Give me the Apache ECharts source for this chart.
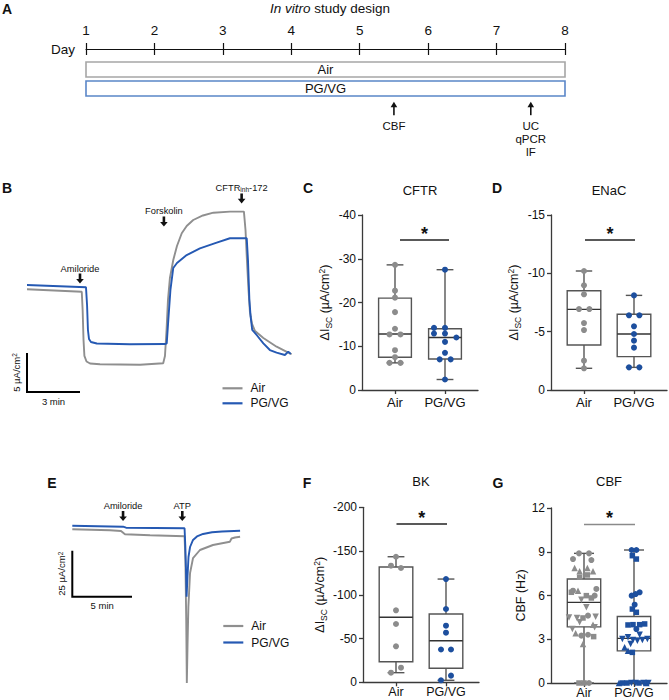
<!DOCTYPE html>
<html><head><meta charset="utf-8">
<script src="https://cdn.jsdelivr.net/npm/echarts@6/dist/echarts.min.js"></script>
<style>html,body{margin:0;padding:0;background:#fff}#c{width:669px;height:700px}</style>
</head><body><div id="c"></div>
<script>
// ================= DATA =================
const days = [1, 2, 3, 4, 5, 6, 7, 8];
const exposureRows = ['Air', 'PG/VG'];
const studyTimepoints = [[5.5, 'CBF'], [7.5, 'UC\nqPCR\nIF']];
const groupNames = ['Air', 'PG/VG'];

// Panel B: Ussing chamber traces (minutes, µA/cm²)
const bAir = [[0,13.17],[3.10,12.86],[3.15,10.51],[3.20,6.67],[3.25,4.62],[3.37,3.91],[3.57,3.65],[4.13,3.55],[6.40,3.50],[7.71,3.68],[7.81,4.62],[7.90,7.95],[7.98,11.79],[8.09,14.62],[8.28,16.92],[8.49,18.72],[8.76,20.35],[9.04,21.28],[9.41,22.05],[9.96,22.63],[10.55,22.99],[11.49,23.12],[12.28,23.12],[12.37,20.77],[12.45,16.92],[12.54,13.08],[12.62,10.26],[12.74,8.72],[12.91,7.82],[13.38,6.92],[14.13,5.81],[14.79,5.04],[14.98,4.87]];
const bPg = [[0,13.72],[3.34,13.42],[3.40,11.15],[3.45,7.95],[3.51,6.79],[3.62,6.41],[3.95,6.22],[5.83,6.12],[7.81,6.15],[7.91,6.24],[8.0,9.23],[8.12,13.08],[8.28,15.9],[8.49,16.54],[9.04,17.56],[9.79,18.42],[10.74,19.14],[11.49,19.71],[12.44,19.71],[12.51,16.92],[12.59,11.79],[12.66,9.65],[12.75,7.95],[13.0,7.31],[13.38,6.24],[13.75,5.38],[14.13,5.04],[14.60,4.74],[14.79,5.17],[14.93,4.87]];
const bEvents = [[3.0, 13.91, 'Amiloride'], [7.75, 21.22, 'Forskolin'], [12.15, 24.17, 'CFTR{s|inh}-172']];
const bScale = [0, 0, 3, 5, '3 min', '5 µA/cm{p|2}'];

// Panel C: CFTR ΔIsc (µA/cm²): [jitter, value]
const cAirPts = [[0,-28.6],[0,-22.7],[0,-21.1],[0,-17.8],[0,-14.0],[-0.11,-12.7],[0.11,-12.7],[0,-9.1],[0,-7.5],[-0.11,-6.2],[0.11,-6.2]];
const cPgPts = [[0,-27.5],[-0.22,-14.2],[0,-14.2],[-0.22,-12.9],[0,-12.9],[0.227,-12.0],[0,-11.0],[0,-8.5],[-0.107,-7.0],[0.113,-7.0],[0,-2.4]];
const cBox = [[1,-6.2,-7.5,-12.8,-21.0,-28.6],[2,-2.4,-7.1,-12.0,-14.0,-27.5]]; // x,min,q1,med,q3,max
const cSig = [[1.1, -34.3, 2.08]];

// Panel D: ENaC
const dAirPts = [[0,-10.2],[0,-8.97],[0,-8.2],[-0.1,-6.94],[0.107,-6.94],[0,-5.74],[0,-5.14],[0,-2.51],[0,-1.86]];
const dPgPts = [[0,-8.11],[-0.1,-6.4],[0.107,-6.4],[0,-5.46],[0,-4.8],[0,-4.23],[0,-3.63],[-0.1,-1.94],[0.107,-1.94]];
const dBox = [[1,-1.86,-3.86,-6.91,-8.51,-10.2],[2,-1.94,-2.86,-4.8,-6.49,-8.11]];
const dSig = [[1.02, -12.86, 2.02]];

// Panel E: traces (minutes, µA/cm²)
const eAir = [[0,36.63],[3.16,36.09],[4.08,35.71],[4.41,33.91],[6.51,33.37],[9.40,32.83],[9.47,19.95],[9.54,-12.66],[9.59,-46.9],[9.65,-26.25],[9.72,-5.43],[9.86,12.88],[10.11,21.03],[10.69,25.38],[11.78,28.1],[13.2,29.89],[13.33,31.63],[13.62,32.17],[14.05,32.61]];
const ePg = [[0,38.59],[4.25,38.04],[4.50,37.5],[9.40,37.17],[9.46,28.1],[9.52,14.51],[9.57,0],[9.64,10.16],[9.73,21.58],[9.86,27.01],[10.11,30.82],[10.44,32.72],[10.95,34.08],[11.7,35.0],[12.54,35.43],[14.05,35.87]];
const eEvents = [[4.25, 41.14, 'Amiloride'], [9.21, 41.14, 'ATP']];
const eScale = [0, 0, 5, 25, '5 min', '25 µA/cm{p|2}'];

// Panel F: BK
const fAirPts = [[0,-143.5],[-0.1,-133.3],[0.1,-130.6],[0,-82.3],[0,-66.6],[0,-41.1],[0.1,-16.7],[-0.1,-11.0]];
const fPgPts = [[0,-118],[0,-83.8],[0,-64.7],[0,-56.7],[-0.1,-37.5],[0.1,-37.5],[0.1,-7.6],[-0.1,-2.3]];
const fBox = [[1,-11.0,-23.4,-74.3,-131.8,-143.5],[2,-2.3,-16.0,-47.5,-78.1,-118]];
const fSig = [[1.01, -180.9, 2.02]];

// Panel G: CBF (Hz), per-donor marker shapes
const gAirCircle = [[-0.1,8.89],[0.1,8.89],[-0.22,8.5],[0.147,8.43],[0.247,6.45],[-0.22,6.33],[0.213,5.99],[0.08,4.62],[-0.053,3.25],[0.08,3.31],[0.1,0]];
const gAirSquare = [[-0.087,7.25],[0.067,7.41],[0.047,5.99],[0.147,5.83],[-0.253,6.22],[-0.02,4.46],[0.193,3.18],[-0.1,0],[0,0]];
const gAirTriangle = [[-0.187,7.89],[0.067,7.89],[-0.087,7.66],[0.18,7.66],[-0.12,6.33],[-0.167,3.41],[-0.02,2.67],[0.18,4.0]];
const gAirInvTri = [[-0.053,5.71],[0.047,5.19],[-0.3,4.5],[-0.14,4.46],[0.233,4.55],[-0.087,4.16],[-0.233,3.7],[0.213,3.82]];
const gPgCircle = [[-0.047,9.12],[0.047,9.12],[0.113,6.22],[0.033,6.1],[-0.047,5.99],[0.013,5.37],[0.047,3.7]];
const gPgSquare = [[-0.033,8.73],[0.047,8.5],[-0.033,5.07],[0.047,4.85],[-0.12,3.98],[-0.02,4.0],[0.113,4.0],[0.213,4.05],[-0.033,2.1],[-0.233,0],[-0.14,0],[0.1,0]];
const gPgInvTri = [[-0.233,3.02],[-0.12,3.13],[-0.02,2.95],[0.067,2.9],[0.167,2.95],[0.267,3.02],[-0.067,2.67],[0.113,3.31],[-0.053,0],[0.033,0],[0.193,0],[0.287,0]];
const gPgTriangle = [[-0.187,2.45],[-0.12,2.22],[-0.3,0],[0.247,0]];
const gBox = [[1,0,3.85,5.53,7.13,8.89],[2,0,2.2,3.06,4.56,9.12]];
const gSig = [[1.0, 10.87, 2.02]];

// ================= STYLE =================
const FONT = '"Liberation Sans", Arial, Helvetica, sans-serif';
const TXT = '#111';
const GRAY = '#8f8f8f', BLUE = '#2559b3';
const PTGRAY = '#8c8c8c', PTBLUE = '#1d4f9e';
const BOXC = '#555', AX = '#3a3a3a';

const chart = echarts.init(document.getElementById('c'), null, {renderer: 'svg', width: 669, height: 700});

const yNameRich = {
  n: {fontSize: 12.5, fontFamily: FONT, color: TXT, lineHeight: 16, verticalAlign: 'middle'},
  s: {fontSize: 8.5, fontFamily: FONT, color: TXT, lineHeight: 8, verticalAlign: 'bottom'},
  p: {fontSize: 8.5, fontFamily: FONT, color: TXT, lineHeight: 8, verticalAlign: 'top'}
};
const dIscName = '{n|ΔI}{s|SC}{n| (µA/cm}{p|2}{n|)}';

function xGroupAxis(gi, margin, size) {
  return {
    type: 'value', gridIndex: gi, min: 0.34, max: 2.66,
    axisLine: {show: true, onZero: false, lineStyle: {color: AX, width: 1.3}},
    axisTick: {show: true, customValues: [1, 2], length: 4, lineStyle: {color: AX, width: 1.3}},
    axisLabel: {customValues: [1, 2], formatter: v => groupNames[Math.round(v) - 1], margin, fontSize: size, lineHeight: size + 1, color: TXT, fontFamily: FONT},
    splitLine: {show: false}
  };
}
function yValAxis(gi, min, max, interval, inverse, name, gap) {
  return {
    type: 'value', gridIndex: gi, min, max, interval, inverse,
    axisLine: {show: true, onZero: false, lineStyle: {color: AX, width: 1.3}},
    axisTick: {show: true, length: 4, lineStyle: {color: AX, width: 1.3}},
    axisLabel: {fontSize: 12, color: TXT, margin: 6, fontFamily: FONT},
    splitLine: {show: false},
    name, nameLocation: 'middle', nameGap: gap,
    nameTextStyle: {fontSize: 12.5, fontFamily: FONT, color: TXT, rich: yNameRich}
  };
}
function hiddenAxis(gi, min, max) {
  return {type: 'value', gridIndex: gi, min, max, show: false, splitLine: {show: false}};
}

function boxRender(hw, cw) {
  return function (params, api) {
    const x = api.value(0);
    const pMin = api.coord([x, api.value(1)]), pQ1 = api.coord([x, api.value(2)]),
      pMed = api.coord([x, api.value(3)]), pQ3 = api.coord([x, api.value(4)]), pMax = api.coord([x, api.value(5)]);
    const cx = pMed[0];
    const st = {stroke: BOXC, lineWidth: 1.4, fill: null};
    const top = Math.min(pQ1[1], pQ3[1]), bot = Math.max(pQ1[1], pQ3[1]);
    return {type: 'group', children: [
      {type: 'line', shape: {x1: cx, y1: pMax[1], x2: cx, y2: pQ3[1]}, style: st},
      {type: 'line', shape: {x1: cx, y1: pQ1[1], x2: cx, y2: pMin[1]}, style: st},
      {type: 'line', shape: {x1: cx - cw, y1: pMax[1], x2: cx + cw, y2: pMax[1]}, style: st},
      {type: 'line', shape: {x1: cx - cw, y1: pMin[1], x2: cx + cw, y2: pMin[1]}, style: st},
      {type: 'rect', shape: {x: cx - hw, y: top, width: 2 * hw, height: bot - top}, style: {stroke: BOXC, lineWidth: 1.4, fill: 'rgba(255,255,255,0)'}},
      {type: 'line', shape: {x1: cx - hw, y1: pMed[1], x2: cx + hw, y2: pMed[1]}, style: {stroke: '#333', lineWidth: 1.4}}
    ]};
  };
}
function sigRender(color) {
  return function (params, api) {
    const a = api.coord([api.value(0), api.value(1)]), b = api.coord([api.value(2), api.value(1)]);
    return {type: 'group', children: [
      {type: 'line', shape: {x1: a[0], y1: a[1], x2: b[0], y2: b[1]}, style: {stroke: color, lineWidth: 1.4}},
      {type: 'text', x: (a[0] + b[0]) / 2, y: a[1] - 6, style: {text: '*', fontSize: 18, fontWeight: 'bold', fontFamily: FONT, fill: TXT, align: 'center', verticalAlign: 'middle'}}
    ]};
  };
}
function downArrows(events) {
  return function (params, api) {
    const ev = events[params.dataIndex];
    const p = api.coord([api.value(0), api.value(1)]);
    return {type: 'group', children: [
      {type: 'rect', shape: {x: p[0] - 1.3, y: p[1] - 10, width: 2.6, height: 6}, style: {fill: '#111'}},
      {type: 'polygon', shape: {points: [[p[0] - 3.8, p[1] - 4.6], [p[0] + 3.8, p[1] - 4.6], [p[0], p[1]]]}, style: {fill: '#111'}},
      {type: 'text', x: p[0], y: p[1] - 15, style: {text: ev[2], fontSize: 9.3, fontFamily: FONT, fill: TXT, align: 'center', verticalAlign: 'middle',
        rich: {s: {fontSize: 6.5, fontFamily: FONT, fill: TXT, verticalAlign: 'bottom', lineHeight: 7}}}}
    ]};
  };
}
function scaleRender(sc, vOff, hOff) {
  return function (params, api) {
    const o = api.coord([sc[0], sc[1]]), px = api.coord([sc[0] + sc[2], sc[1]]), py = api.coord([sc[0], sc[1] + sc[3]]);
    return {type: 'group', children: [
      {type: 'polyline', shape: {points: [py, o, px]}, style: {stroke: '#000', lineWidth: 2, fill: null}},
      {type: 'text', x: (o[0] + px[0]) / 2, y: o[1] + hOff, style: {text: sc[4], fontSize: 9.5, fontFamily: FONT, fill: TXT, align: 'center', verticalAlign: 'middle'}},
      {type: 'text', x: o[0] - vOff, y: (o[1] + py[1]) / 2, rotation: Math.PI / 2, style: {text: sc[5], fontSize: 9.5, fontFamily: FONT, fill: TXT, align: 'center', verticalAlign: 'middle',
        rich: {p: {fontSize: 6.5, fontFamily: FONT, fill: TXT, verticalAlign: 'top', lineHeight: 7}}}}
    ]};
  };
}
function pts(arr, group) { return arr.map(p => [group + p[0], p[1]]); }
function scatter(name, xi, yi, data, color, symbol, size, rotate) {
  return {type: 'scatter', name, xAxisIndex: xi, yAxisIndex: yi, data, symbol: symbol || 'circle', symbolSize: size || 6,
    symbolRotate: rotate || 0, itemStyle: {color, opacity: 1}, z: 5, silent: true};
}

const series = [];
// ---- Panel A ----
series.push({
  type: 'custom', name: 'studyBars', xAxisIndex: 0, yAxisIndex: 0, silent: true,
  data: exposureRows.map((n, i) => [days[0], i, days[days.length - 1]]),
  encode: {x: [0, 2], y: 1},
  renderItem: function (params, api) {
    const l = api.coord([api.value(0), api.value(1)]), r = api.coord([api.value(2), api.value(1)]);
    const h = 15;
    const stroke = params.dataIndex === 0 ? '#a6a6a6' : '#5a86c8';
    return {type: 'group', children: [
      {type: 'rect', shape: {x: l[0], y: l[1] - h / 2, width: r[0] - l[0], height: h}, style: {stroke, lineWidth: 1.6, fill: '#fff'}},
      {type: 'text', x: (l[0] + r[0]) / 2, y: l[1], style: {text: exposureRows[params.dataIndex], fontSize: 13, fontFamily: FONT, fill: TXT, align: 'center', verticalAlign: 'middle'}}
    ]};
  }
});
series.push({
  type: 'custom', name: 'timepoints', xAxisIndex: 0, yAxisIndex: 0, silent: true,
  data: studyTimepoints.map(t => [t[0], 1]),
  renderItem: function (params, api) {
    const tp = studyTimepoints[params.dataIndex];
    const p = api.coord([api.value(0), api.value(1)]);
    const tipY = p[1] + 13.2;
    return {type: 'group', children: [
      {type: 'line', shape: {x1: p[0], y1: tipY + 4, x2: p[0], y2: tipY + 13.5}, style: {stroke: '#111', lineWidth: 1.6}},
      {type: 'polygon', shape: {points: [[p[0] - 3.3, tipY + 5.5], [p[0] + 3.3, tipY + 5.5], [p[0], tipY]]}, style: {fill: '#111'}},
      {type: 'text', x: p[0], y: tipY + 17.5, style: {text: tp[1], fontSize: 11.5, lineHeight: 13.3, fontFamily: FONT, fill: TXT, align: 'center', verticalAlign: 'top'}}
    ]};
  }
});
// ---- Panel B ----
series.push({type: 'line', name: 'Air', xAxisIndex: 2, yAxisIndex: 1, data: bAir, symbol: 'none', showSymbol: false, color: GRAY,
  lineStyle: {color: GRAY, width: 1.9}, itemStyle: {color: GRAY}, z: 3, silent: true});
series.push({type: 'line', name: 'PG/VG', xAxisIndex: 2, yAxisIndex: 1, data: bPg, symbol: 'none', showSymbol: false, color: BLUE,
  lineStyle: {color: BLUE, width: 1.9}, itemStyle: {color: BLUE}, z: 4, silent: true});
series.push({type: 'custom', name: 'bEvents', xAxisIndex: 2, yAxisIndex: 1, silent: true, data: bEvents.map(e => [e[0], e[1]]), renderItem: downArrows(bEvents)});
series.push({type: 'custom', name: 'bScale', xAxisIndex: 2, yAxisIndex: 1, silent: true, data: [[bScale[0], bScale[1]]], renderItem: scaleRender(bScale, 11, 9.7)});
// ---- Panel C ----
series.push({type: 'custom', name: 'cBox', xAxisIndex: 3, yAxisIndex: 2, silent: true, data: cBox, renderItem: boxRender(16.4, 8.4), z: 2});
series.push(scatter('cAir', 3, 2, pts(cAirPts, 1), PTGRAY));
series.push(scatter('cPg', 3, 2, pts(cPgPts, 2), PTBLUE));
series.push({type: 'custom', name: 'cSig', xAxisIndex: 3, yAxisIndex: 2, silent: true, data: cSig, renderItem: sigRender('#222')});
// ---- Panel D ----
series.push({type: 'custom', name: 'dBox', xAxisIndex: 4, yAxisIndex: 3, silent: true, data: dBox, renderItem: boxRender(16.8, 8.2), z: 2});
series.push(scatter('dAir', 4, 3, pts(dAirPts, 1), PTGRAY));
series.push(scatter('dPg', 4, 3, pts(dPgPts, 2), PTBLUE));
series.push({type: 'custom', name: 'dSig', xAxisIndex: 4, yAxisIndex: 3, silent: true, data: dSig, renderItem: sigRender('#222')});
// ---- Panel E ----
series.push({type: 'line', name: 'Air', xAxisIndex: 5, yAxisIndex: 4, data: eAir, symbol: 'none', showSymbol: false, color: GRAY,
  lineStyle: {color: GRAY, width: 1.9}, itemStyle: {color: GRAY}, z: 3, silent: true});
series.push({type: 'line', name: 'PG/VG', xAxisIndex: 5, yAxisIndex: 4, data: ePg, symbol: 'none', showSymbol: false, color: BLUE,
  lineStyle: {color: BLUE, width: 1.9}, itemStyle: {color: BLUE}, z: 4, silent: true});
series.push({type: 'custom', name: 'eEvents', xAxisIndex: 5, yAxisIndex: 4, silent: true, data: eEvents.map(e => [e[0], e[1]]), renderItem: downArrows(eEvents)});
series.push({type: 'custom', name: 'eScale', xAxisIndex: 5, yAxisIndex: 4, silent: true, data: [[eScale[0], eScale[1]]], renderItem: scaleRender(eScale, 10.6, 9)});
// ---- Panel F ----
series.push({type: 'custom', name: 'fBox', xAxisIndex: 6, yAxisIndex: 5, silent: true, data: fBox, renderItem: boxRender(16.8, 8.4), z: 2});
series.push(scatter('fAir', 6, 5, pts(fAirPts, 1), PTGRAY));
series.push(scatter('fPg', 6, 5, pts(fPgPts, 2), PTBLUE));
series.push({type: 'custom', name: 'fSig', xAxisIndex: 6, yAxisIndex: 5, silent: true, data: fSig, renderItem: sigRender('#222')});
// ---- Panel G ----
series.push({type: 'custom', name: 'gBox', xAxisIndex: 7, yAxisIndex: 6, silent: true, data: gBox, renderItem: boxRender(16.7, 10), z: 2});
series.push(scatter('gAirC', 7, 6, pts(gAirCircle, 1), PTGRAY, 'circle', 6));
series.push(scatter('gAirS', 7, 6, pts(gAirSquare, 1), PTGRAY, 'rect', 5.5));
series.push(scatter('gAirT', 7, 6, pts(gAirTriangle, 1), PTGRAY, 'triangle', 6.5));
series.push(scatter('gAirI', 7, 6, pts(gAirInvTri, 1), PTGRAY, 'triangle', 6.5, 180));
series.push(scatter('gPgC', 7, 6, pts(gPgCircle, 2), PTBLUE, 'circle', 6));
series.push(scatter('gPgS', 7, 6, pts(gPgSquare, 2), PTBLUE, 'rect', 5.5));
series.push(scatter('gPgT', 7, 6, pts(gPgTriangle, 2), PTBLUE, 'triangle', 6.5));
series.push(scatter('gPgI', 7, 6, pts(gPgInvTri, 2), PTBLUE, 'triangle', 6.5, 180));
series.push({type: 'custom', name: 'gSig', xAxisIndex: 7, yAxisIndex: 6, silent: true, data: gSig, renderItem: sigRender('#8a8a8a')});

function txt(x, y, text, size, bold, extra) {
  return {type: 'text', x, y, silent: true, style: Object.assign({text, fontSize: size, fontWeight: bold ? 'bold' : 'normal', fontFamily: FONT, fill: TXT, align: 'center', verticalAlign: 'middle'}, extra || {})};
}

const option = {
  animation: false,
  backgroundColor: '#fff',
  grid: [
    {left: 86, top: 60, width: 479, height: 38, outerBoundsMode: 'none'},
    {left: 27, top: 181.4, width: 273.8, height: 226.2, outerBoundsMode: 'none'},
    {left: 362, top: 215, width: 116, height: 175, outerBoundsMode: 'none'},
    {left: 551, top: 215, width: 116, height: 175, outerBoundsMode: 'none'},
    {left: 72.3, top: 495.5, width: 226.9, height: 193.2, outerBoundsMode: 'none'},
    {left: 363, top: 507.3, width: 116, height: 175, outerBoundsMode: 'none'},
    {left: 551, top: 508, width: 116, height: 175, outerBoundsMode: 'none'}
  ],
  xAxis: [
    {type: 'value', gridIndex: 0, min: days[0], max: days[days.length - 1], interval: 1, position: 'top', offset: 11,
      axisLine: {show: true, lineStyle: {color: '#111', width: 1.2}},
      axisTick: {show: true, inside: false, length: 6, lineStyle: {color: '#111', width: 1.2}},
      axisLabel: {show: true, margin: 12, fontSize: 13.5, color: TXT, fontFamily: FONT},
      splitLine: {show: false},
      name: 'Day', nameLocation: 'start', nameGap: 11, nameTextStyle: {fontSize: 13.5, color: TXT, fontFamily: FONT}},
    {type: 'value', gridIndex: 0, min: days[0], max: days[days.length - 1], interval: 1, position: 'top', offset: 11,
      axisLine: {show: false}, axisTick: {show: true, inside: true, length: 6, lineStyle: {color: '#111', width: 1.2}},
      axisLabel: {show: false}, splitLine: {show: false}},
    hiddenAxis(1, 0, 15.5),
    xGroupAxis(2, 5, 13),
    xGroupAxis(3, 5, 13),
    hiddenAxis(4, 0, 19),
    xGroupAxis(5, 3, 12.5),
    xGroupAxis(6, 3, 12.5)
  ],
  yAxis: [
    {type: 'category', gridIndex: 0, data: exposureRows, inverse: true, show: false},
    hiddenAxis(1, -2, 27),
    yValAxis(2, -40, 0, 10, true, dIscName, 29),
    yValAxis(3, -15, 0, 5, true, dIscName, 29),
    hiddenAxis(4, -50, 55),
    yValAxis(5, -200, 0, 50, true, dIscName, 35),
    yValAxis(6, 0, 12, 3, false, 'CBF (Hz)', 23)
  ],
  legend: [
    {data: ['Air', 'PG/VG'], orient: 'vertical', left: 222.5, top: 382.3, itemWidth: 20, itemHeight: 2.2, itemGap: 3, icon: 'rect', padding: 0,
      selectedMode: false, textStyle: {fontSize: 12, fontFamily: FONT, color: TXT, padding: [0, 0, 0, 3]}},
    {data: ['Air', 'PG/VG'], orient: 'vertical', left: 223.3, top: 620, itemWidth: 20, itemHeight: 2.2, itemGap: 4.5, icon: 'rect', padding: 0,
      selectedMode: false, textStyle: {fontSize: 12, fontFamily: FONT, color: TXT, padding: [0, 0, 0, 3]}}
  ],
  graphic: [
    txt(7, 8.5, 'A', 14, true),
    txt(330, 8, '{i|In vitro} study design', 13.5, false, {rich: {i: {fontStyle: 'italic', fontSize: 13.5, fontFamily: FONT, fill: TXT}}}),
    txt(7, 188, 'B', 14, true),
    txt(308, 188, 'C', 14, true),
    txt(497, 188, 'D', 14, true),
    txt(52, 483, 'E', 14, true),
    txt(307, 483, 'F', 14, true),
    txt(498, 483, 'G', 14, true),
    txt(420, 190, 'CFTR', 13),
    txt(609, 190, 'ENaC', 13),
    txt(421, 481, 'BK', 13),
    txt(609, 481, 'CBF', 13)
  ],
  series
};
chart.setOption(option);
</script>
</body></html>
